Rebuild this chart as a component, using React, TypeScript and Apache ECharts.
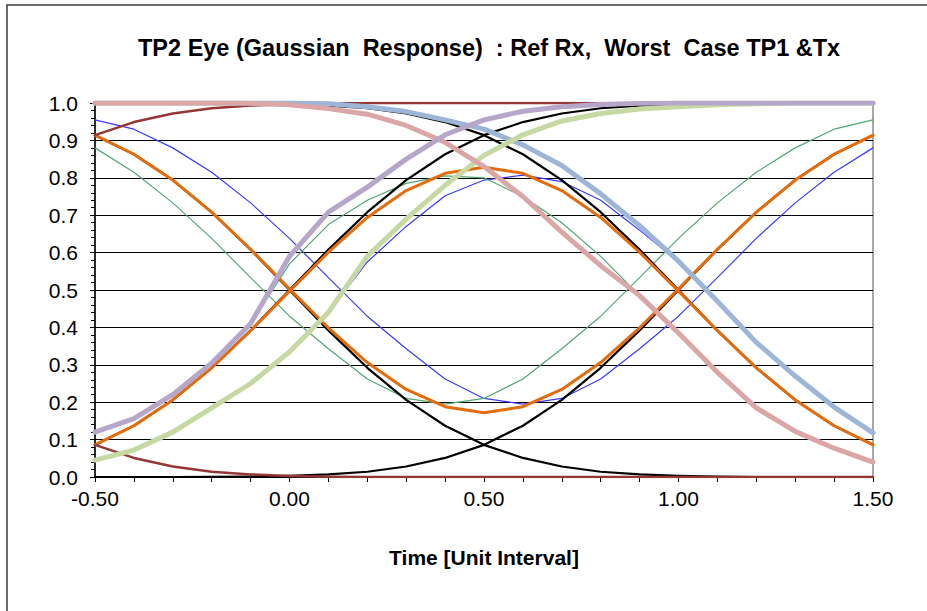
import React, { useEffect, useRef } from "react";
import * as echarts from "echarts";

// Time axis (Unit Interval), sampled every 0.1 UI
const timeUI = [-0.5, -0.4, -0.3, -0.2, -0.1, 0.0, 0.1, 0.2, 0.3, 0.4, 0.5, 0.6, 0.7, 0.8, 0.9, 1.0, 1.1, 1.2, 1.3, 1.4, 1.5];

// thin blue / green jittered transitions
const blueValley = [0.955, 0.93, 0.88, 0.815, 0.733, 0.638, 0.533, 0.43, 0.343, 0.262, 0.21, 0.195, 0.21, 0.262, 0.343, 0.43, 0.533, 0.638, 0.733, 0.815, 0.88];
const bluePeak = [0.045, 0.072, 0.12, 0.185, 0.25, 0.335, 0.44, 0.575, 0.67, 0.752, 0.794, 0.807, 0.79, 0.74, 0.66, 0.575, 0.47, 0.36, 0.27, 0.187, 0.118];
const greenValley = [0.88, 0.815, 0.733, 0.638, 0.533, 0.43, 0.343, 0.262, 0.21, 0.195, 0.21, 0.262, 0.343, 0.43, 0.533, 0.638, 0.733, 0.815, 0.88, 0.93, 0.955];
const greenPeak = [0.12, 0.156, 0.22, 0.305, 0.41, 0.57, 0.675, 0.74, 0.785, 0.805, 0.8, 0.75, 0.68, 0.59, 0.485, 0.385, 0.28, 0.185, 0.122, 0.075, 0.042];

// black step responses
const stepUp0 = [0.086, 0.137, 0.206, 0.292, 0.392, 0.5, 0.608, 0.708, 0.794, 0.863, 0.914, 0.949, 0.972, 0.986, 0.993, 0.997, 0.999, 1, 1, 1, 1];
const stepDown0 = [0.914, 0.863, 0.794, 0.708, 0.608, 0.5, 0.392, 0.292, 0.206, 0.137, 0.086, 0.051, 0.028, 0.014, 0.007, 0.003, 0.001, 0, 0, 0, 0];
const stepUp1 = [0, 0, 0, 0.0005, 0.0013, 0.003, 0.007, 0.014, 0.028, 0.051, 0.086, 0.137, 0.206, 0.292, 0.392, 0.5, 0.608, 0.708, 0.794, 0.863, 0.914];
const stepDown1 = [1, 1, 1, 0.9995, 0.9987, 0.997, 0.993, 0.986, 0.972, 0.949, 0.914, 0.863, 0.794, 0.708, 0.608, 0.5, 0.392, 0.292, 0.206, 0.137, 0.086];

// orange isolated pulse / valley
const pulse010 = [0.086, 0.137, 0.206, 0.292, 0.391, 0.497, 0.601, 0.694, 0.766, 0.812, 0.828, 0.812, 0.766, 0.694, 0.601, 0.497, 0.391, 0.292, 0.206, 0.137, 0.086];
const valley101 = [0.914, 0.863, 0.794, 0.708, 0.609, 0.503, 0.399, 0.306, 0.234, 0.188, 0.172, 0.188, 0.234, 0.306, 0.399, 0.503, 0.609, 0.708, 0.794, 0.863, 0.914];

// dark red settling lines
const settleHigh = [0.914, 0.949, 0.972, 0.986, 0.993, 0.997, 0.999, 1, 1, 1, 1, 1, 1, 1, 1, 1, 1, 1, 1, 1, 1];
const settleLow = [0.086, 0.051, 0.028, 0.014, 0.007, 0.003, 0.001, 0, 0, 0, 0, 0, 0, 0, 0, 0, 0, 0, 0, 0, 0];

// pale worst-case transitions
const paleBlueFall = [1, 1, 1, 1, 1, 1, 0.998, 0.99, 0.977, 0.955, 0.93, 0.888, 0.833, 0.757, 0.672, 0.577, 0.47, 0.36, 0.27, 0.187, 0.118];
const pinkFall = [1, 1, 1, 1, 0.999, 0.995, 0.985, 0.97, 0.94, 0.895, 0.83, 0.75, 0.655, 0.565, 0.485, 0.385, 0.28, 0.185, 0.122, 0.077, 0.04];
const paleGreenRise = [0.045, 0.072, 0.12, 0.185, 0.25, 0.335, 0.44, 0.59, 0.69, 0.78, 0.86, 0.915, 0.952, 0.972, 0.984, 0.99, 0.995, 0.998, 1, 1, 1];
const purpleRise = [0.12, 0.156, 0.22, 0.305, 0.41, 0.59, 0.708, 0.775, 0.85, 0.915, 0.955, 0.978, 0.99, 0.996, 0.999, 1, 1, 1, 1, 1, 1];

const yTicks = [0, 0.1, 0.2, 0.3, 0.4, 0.5, 0.6, 0.7, 0.8, 0.9, 1.0];

const FONT = "'Liberation Sans', Arial, sans-serif";

function mk(name: string, arr: number[], color: string, width: number) {
  return {
    name,
    type: "line",
    data: timeUI.map((t, i) => [t, arr[i]]),
    showSymbol: false,
    symbol: "none",
    silent: true,
    lineStyle: { color, width, cap: "round", join: "round" },
    itemStyle: { color },
  };
}

export default function App() {
  const ref = useRef<HTMLDivElement>(null);
  useEffect(() => {
    const chart = echarts.init(ref.current!, null, { renderer: "svg" });
    const option: any = {
      animation: false,
      backgroundColor: "#ffffff",
      title: {
        text: "TP2 Eye (Gaussian  Response)  : Ref Rx,  Worst  Case TP1 &Tx",
        left: 133,
        top: 31,
        textStyle: { fontFamily: FONT, fontSize: 23.5, fontWeight: "bold", color: "#000" },
      },
      graphic: [
        {
          type: "rect",
          shape: { x: 7, y: 5, width: 1000, height: 1000 },
          style: { fill: "none", stroke: "#3a3a3a", lineWidth: 1.5 },
          silent: true,
          z: 100,
        },
      ],
      grid: {
        left: 95,
        top: 103,
        width: 778,
        height: 374,
        show: true,
        borderColor: "#8c8c8c",
        borderWidth: 1.5,
        backgroundColor: "transparent",
      },
      xAxis: {
        type: "value",
        min: -0.5,
        max: 1.5,
        interval: 0.1,
        name: "Time [Unit Interval]",
        nameLocation: "middle",
        nameGap: 70,
        nameTextStyle: { fontFamily: FONT, fontSize: 21, fontWeight: "bold", color: "#000" },
        axisLine: { show: true, onZero: false, lineStyle: { color: "#000", width: 1.5 } },
        axisTick: { show: true, inside: false, length: 5, lineStyle: { color: "#000", width: 1 } },
        axisLabel: {
          show: true,
          margin: 11,
          fontFamily: FONT,
          fontSize: 21,
          color: "#000",
          showMinLabel: true,
          showMaxLabel: true,
          formatter: (v: number) => (Math.abs(v * 2 - Math.round(v * 2)) < 1e-6 ? v.toFixed(2) : ""),
        },
        splitLine: { show: false },
      },
      yAxis: {
        type: "value",
        min: yTicks[0],
        max: yTicks[yTicks.length - 1],
        interval: 0.1,
        axisLine: { show: true, onZero: false, lineStyle: { color: "#000", width: 1.5 } },
        axisTick: { show: true, inside: false, length: 5, lineStyle: { color: "#000", width: 1 } },
        minorTick: { show: true, splitNumber: 5, length: 4, lineStyle: { color: "#000", width: 1 } },
        axisLabel: {
          margin: 17,
          fontFamily: FONT,
          fontSize: 21,
          color: "#000",
          formatter: (v: number) => v.toFixed(1),
        },
        splitLine: { show: true, lineStyle: { color: "#000", width: 1.2 } },
      },
      series: [
        mk("Blue valley", blueValley, "#3a3aff", 1.2),
        mk("Blue peak", bluePeak, "#3a3aff", 1.2),
        mk("Green valley", greenValley, "#4fa874", 1.2),
        mk("Green peak", greenPeak, "#4fa874", 1.2),
        mk("Step up 0", stepUp0, "#000000", 2.2),
        mk("Step down 0", stepDown0, "#000000", 2.2),
        mk("Step up 1", stepUp1, "#000000", 2.2),
        mk("Step down 1", stepDown1, "#000000", 2.2),
        mk("Pulse 010", pulse010, "#e46c0a", 3),
        mk("Valley 101", valley101, "#e46c0a", 3),
        mk("Settle high", settleHigh, "#953735", 2.5),
        mk("Settle low", settleLow, "#953735", 2.5),
        mk("Pale blue fall", paleBlueFall, "#9db6d8", 5),
        mk("Pale green rise", paleGreenRise, "#c6d9a3", 5),
        mk("Pink fall", pinkFall, "#dba6a6", 5),
        mk("Purple rise", purpleRise, "#b6a6c9", 5),
      ],
    };
    chart.setOption(option);
    return () => chart.dispose();
  }, []);
  return (
    <div
      ref={ref}
      style={{ position: "fixed", left: 0, top: 0, width: 927, height: 611, background: "#fff" }}
    />
  );
}
